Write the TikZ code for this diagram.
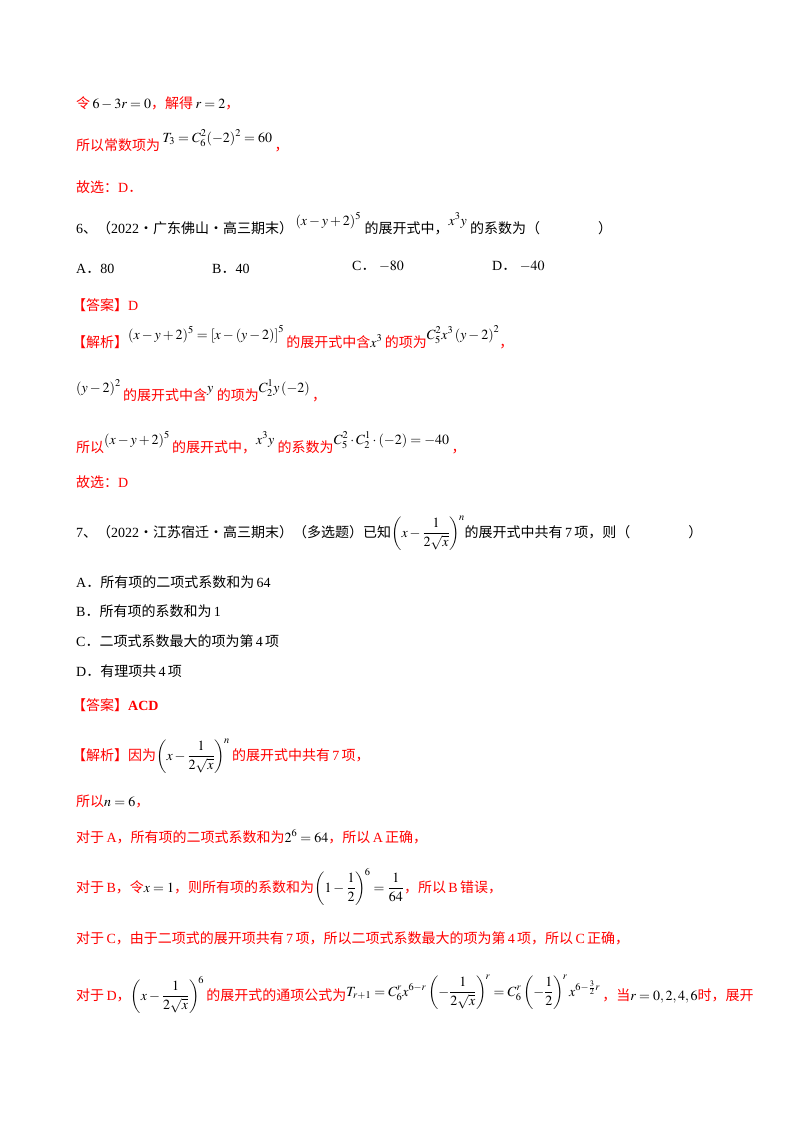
\documentclass[tikz,border=0pt]{standalone}
\usepackage{amsmath}
\usepackage{mathptmx}
\usepackage[no-math]{fontspec}
\setmainfont{Liberation Serif}
\newfontfamily\cjk{Noto Sans CJK SC}
\definecolor{rd}{RGB}{255,0,0}
\begin{document}
\begin{tikzpicture}[x=1pt,y=-1pt,
  ln/.style={anchor=base west,inner sep=0pt,font=\fontsize{14}{16}\selectfont},
  rl/.style={ln,text=rd}]
\useasboundingbox (0,0) rectangle (800,1132);
\newcommand\C[1]{{\cjk #1}}
\newcommand\up[1]{\raisebox{8pt}{\color{black}$#1$}}
\node[rl] (l1) at (76,108) {\C{令}\,{\color{black}$6-3r=0$}\C{，解得}\,{\color{black}$r=2$}\C{，}};
\node[rl] (l2) at (76,150) {\C{所以常数项为}\,\up{T_3=C_6^2(-2)^2=60}\,\C{，}};
\node[rl] (l3) at (76,192) {\C{故选：}D\C{．}};
\node[ln] (q6) at (76,233) {6\C{、（}2022\C{·广东佛山·高三期末）}\,\up{(x-y+2)^5}\ \C{的展开式中，}\up{x^3y}\ \C{的系数为（}\hspace{58pt}\C{）}};
\node[ln] (a6) at (76,273) {A\C{．}80};
\node[ln] (b6) at (212,273) {B\C{．}40};
\node[ln] (c6) at (352,270) {C\C{．}\ $-80$};
\node[ln] (d6) at (492,270) {D\C{．}\ $-40$};
\node[rl] (ans6) at (72,310) {\C{【答案】}D};
\node[rl] (jx6) at (72,347) {\C{【解析】}\up{(x-y+2)^5=\left[x-\left(y-2\right)\right]^5}\,\C{的展开式中含}{\color{black}$x^3$}\,\C{的项为}\up{C_5^2x^3\left(y-2\right)^2}\C{，}};
\node[rl] (l8) at (76,400) {\up{(y-2)^2}\,\C{的展开式中含}\up{y}\ \C{的项为}\up{C_2^1y\left(-2\right)}\,\C{，}};
\node[rl] (l9) at (76,452) {\C{所以}\up{(x-y+2)^5}\,\C{的展开式中，}\up{x^3y}\ \C{的系数为}\up{C_5^2\cdot C_2^1\cdot\left(-2\right)=-40}\,\C{，}};
\node[rl] (l10) at (76,487) {\C{故选：}D};
\node[ln] (q7) at (76,537) {7\C{、（}2022\C{·江苏宿迁·高三期末）（多选题）已知}$\left(x-\dfrac{1}{2\sqrt{x}}\right)^{\!n}$\C{的展开式中共有}\,7\,\C{项，则（}\hspace{58pt}\C{）}};
\node[ln] (a7) at (76,587) {A\C{．所有项的二项式系数和为}\,64};
\node[ln] (b7) at (76,616) {B\C{．所有项的系数和为}\,1};
\node[ln] (c7) at (76,646) {C\C{．二项式系数最大的项为第}\,4\,\C{项}};
\node[ln] (d7) at (76,676) {D\C{．有理项共}\,4\,\C{项}};
\node[rl] (ans7) at (72,710) {\C{【答案】}\textbf{ACD}};
\node[rl] (jx7) at (72,760) {\C{【解析】因为}{\color{black}$\left(x-\dfrac{1}{2\sqrt{x}}\right)^{\!n}$}\,\C{的展开式中共有}\,7\,\C{项，}};
\node[rl] (l13) at (76,806) {\C{所以}{\color{black}$n=6$}\C{，}};
\node[rl] (l14) at (76,842) {\C{对于}\,A\C{，所有项的二项式系数和为}{\color{black}$2^6=64$}\C{，所以}\,A\,\C{正确，}};
\node[rl] (l15) at (76,892) {\C{对于}\,B\C{，令}{\color{black}$x=1$}\C{，则所有项的系数和为}{\color{black}$\left(1-\dfrac12\right)^{\!6}=\dfrac{1}{64}$}\C{，所以}\,B\,\C{错误，}};
\node[rl] (l16) at (76,943) {\C{对于}\,C\C{，由于二项式的展开项共有}\,7\,\C{项，所以二项式系数最大的项为第}\,4\,\C{项，所以}\,C\,\C{正确，}};
\node[rl] (l17) at (76,1000) {\C{对于}\,D\C{，}{\color{black}$\left(x-\dfrac{1}{2\sqrt{x}}\right)^{\!6}$}\,\C{的展开式的通项公式为}\raisebox{4pt}{\color{black}$T_{r+1}=C_6^rx^{6-r}\left(-\dfrac{1}{2\sqrt{x}}\right)^{\!r}=C_6^r\left(-\dfrac12\right)^{\!r}x^{6-\frac32r}$}\,\C{，当}{\color{black}$r=0,2,4,6$}\C{时，展开}};
\end{tikzpicture}
\end{document}
